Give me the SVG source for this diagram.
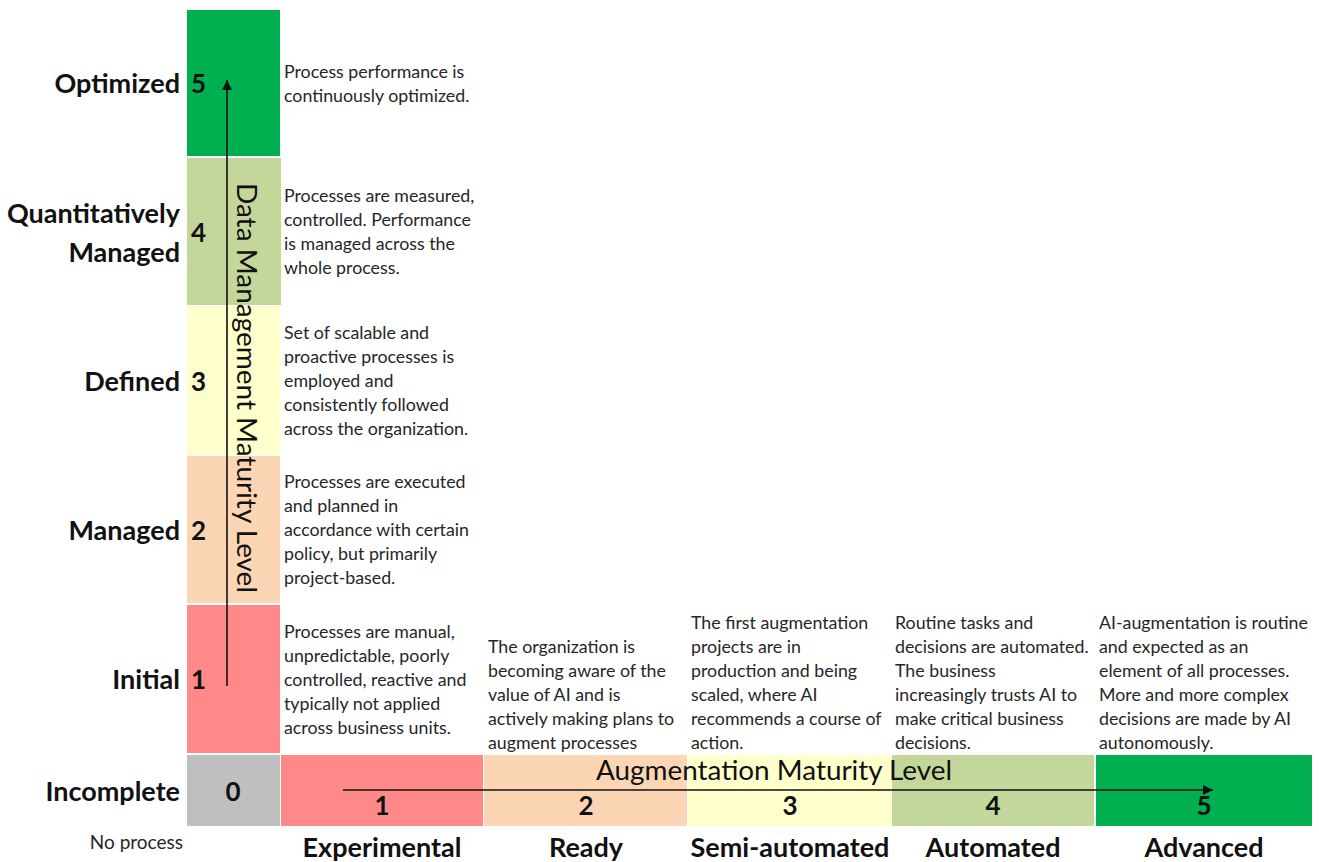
<svg xmlns="http://www.w3.org/2000/svg" width="1319" height="862" viewBox="0 0 1319 862">
  <style>
    .lvl { font-family: Lato, "Liberation Sans", sans-serif; font-weight: 700; font-size: 27px; fill: #111; }
    .num { font-family: Lato, "Liberation Sans", sans-serif; font-weight: 700; font-size: 26px; fill: #111; }
    .desc { font-family: Lato, "Liberation Sans", sans-serif; font-size: 17.8px; fill: #262626; }
    .axis { font-family: Lato, "Liberation Sans", sans-serif; font-size: 27px; fill: #111; }
    .note { font-family: Lato, "Liberation Sans", sans-serif; font-size: 19px; fill: #262626; }
    .c5 { fill: #00B050; }
    .c4 { fill: #C4D79B; }
    .c3 { fill: #FFFFCC; }
    .c2 { fill: #FCD5B4; }
    .c1 { fill: #FF8989; }
    .c0 { fill: #BFBFBF; }
    .arrow { stroke: #111; stroke-width: 1.6; fill: none; marker-end: url(#head); }
  </style>
  <defs>
    <marker id="head" viewBox="0 0 10 10" refX="10" refY="5" markerWidth="6.5" markerHeight="6.5" markerUnits="strokeWidth" orient="auto">
      <path d="M0,0 L10,5 L0,10 Z" fill="#111"/>
    </marker>
  </defs>
  <rect width="1319" height="862" fill="#ffffff"/>

  <!-- Data management levels (vertical axis) -->
  <g id="dm-5">
    <rect class="c5" x="187" y="10" width="93" height="146"/>
    <text class="lvl" x="180" y="93" text-anchor="end">Optimized</text>
    <text class="num" x="191" y="93">5</text>
    <text class="desc" x="284" y="78">Process performance is</text>
    <text class="desc" x="284" y="102">continuously optimized.</text>
  </g>
  <g id="dm-4">
    <rect class="c4" x="187" y="158" width="94" height="147"/>
    <text class="lvl" x="180" y="223" text-anchor="end">Quantitatively</text>
    <text class="lvl" x="180" y="262" text-anchor="end">Managed</text>
    <text class="num" x="191" y="242">4</text>
    <text class="desc" x="284" y="202">Processes are measured,</text>
    <text class="desc" x="284" y="226">controlled. Performance</text>
    <text class="desc" x="284" y="250">is managed across the</text>
    <text class="desc" x="284" y="274">whole process.</text>
  </g>
  <g id="dm-3">
    <rect class="c3" x="187" y="306" width="93" height="149"/>
    <text class="lvl" x="180" y="391" text-anchor="end">Defined</text>
    <text class="num" x="191" y="391">3</text>
    <text class="desc" x="284" y="339">Set of scalable and</text>
    <text class="desc" x="284" y="363">proactive processes is</text>
    <text class="desc" x="284" y="387">employed and</text>
    <text class="desc" x="284" y="411">consistently followed</text>
    <text class="desc" x="284" y="435">across the organization.</text>
  </g>
  <g id="dm-2">
    <rect class="c2" x="187" y="456" width="93" height="147"/>
    <text class="lvl" x="180" y="540" text-anchor="end">Managed</text>
    <text class="num" x="191" y="540">2</text>
    <text class="desc" x="284" y="488">Processes are executed</text>
    <text class="desc" x="284" y="512">and planned in</text>
    <text class="desc" x="284" y="536">accordance with certain</text>
    <text class="desc" x="284" y="560">policy, but primarily</text>
    <text class="desc" x="284" y="584">project-based.</text>
  </g>
  <g id="dm-1">
    <rect class="c1" x="187" y="605" width="93" height="148"/>
    <text class="lvl" x="180" y="689" text-anchor="end">Initial</text>
    <text class="num" x="191" y="689">1</text>
    <text class="desc" x="284" y="638">Processes are manual,</text>
    <text class="desc" x="284" y="662">unpredictable, poorly</text>
    <text class="desc" x="284" y="686">controlled, reactive and</text>
    <text class="desc" x="284" y="710">typically not applied</text>
    <text class="desc" x="284" y="734">across business units.</text>
  </g>
  <g id="level-0">
    <rect class="c0" x="187" y="755" width="93" height="71"/>
    <text class="lvl" x="180" y="801" text-anchor="end">Incomplete</text>
    <text class="num" x="233" y="801" text-anchor="middle">0</text>
    <text class="note" x="183" y="849" text-anchor="end">No process</text>
  </g>

  <!-- Augmentation levels (horizontal axis) -->
  <g id="aug-1">
    <rect class="c1" x="281" y="755" width="202" height="71"/>
    <text class="num" x="382" y="815" text-anchor="middle">1</text>
    <text class="lvl" x="382" y="857" text-anchor="middle">Experimental</text>
  </g>
  <g id="aug-2">
    <rect class="c2" x="484" y="755" width="203" height="71"/>
    <text class="num" x="586" y="815" text-anchor="middle">2</text>
    <text class="lvl" x="586" y="857" text-anchor="middle">Ready</text>
    <text class="desc" x="488" y="653">The organization is</text>
    <text class="desc" x="488" y="677">becoming aware of the</text>
    <text class="desc" x="488" y="701">value of AI and is</text>
    <text class="desc" x="488" y="725">actively making plans to</text>
    <text class="desc" x="488" y="749">augment processes</text>
  </g>
  <g id="aug-3">
    <rect class="c3" x="688" y="755" width="203" height="71"/>
    <text class="num" x="790" y="815" text-anchor="middle">3</text>
    <text class="lvl" x="790" y="857" text-anchor="middle">Semi-automated</text>
    <text class="desc" x="691" y="629">The first augmentation</text>
    <text class="desc" x="691" y="653">projects are in</text>
    <text class="desc" x="691" y="677">production and being</text>
    <text class="desc" x="691" y="701">scaled, where AI</text>
    <text class="desc" x="691" y="725">recommends a course of</text>
    <text class="desc" x="691" y="749">action.</text>
  </g>
  <g id="aug-4">
    <rect class="c4" x="892" y="755" width="202" height="71"/>
    <text class="num" x="993" y="815" text-anchor="middle">4</text>
    <text class="lvl" x="993" y="857" text-anchor="middle">Automated</text>
    <text class="desc" x="895" y="629">Routine tasks and</text>
    <text class="desc" x="895" y="653">decisions are automated.</text>
    <text class="desc" x="895" y="677">The business</text>
    <text class="desc" x="895" y="701">increasingly trusts AI to</text>
    <text class="desc" x="895" y="725">make critical business</text>
    <text class="desc" x="895" y="749">decisions.</text>
  </g>
  <g id="aug-5">
    <rect class="c5" x="1096" y="755" width="216" height="71"/>
    <text class="num" x="1204" y="815" text-anchor="middle">5</text>
    <text class="lvl" x="1204" y="857" text-anchor="middle">Advanced</text>
    <text class="desc" x="1099" y="629">AI-augmentation is routine</text>
    <text class="desc" x="1099" y="653">and expected as an</text>
    <text class="desc" x="1099" y="677">element of all processes.</text>
    <text class="desc" x="1099" y="701">More and more complex</text>
    <text class="desc" x="1099" y="725">decisions are made by AI</text>
    <text class="desc" x="1099" y="749">autonomously.</text>
  </g>

  <!-- Axes -->
  <g id="connectors">
    <line class="arrow" x1="227" y1="686" x2="227" y2="80"/>
    <line class="arrow" x1="343" y1="790" x2="1213" y2="790"/>
  </g>
  <g id="axis-labels">
    <text class="axis" transform="translate(237,388) rotate(90)" text-anchor="middle" textLength="410" lengthAdjust="spacingAndGlyphs">Data Management Maturity Level</text>
    <text class="axis" x="774" y="780" text-anchor="middle" textLength="356" lengthAdjust="spacingAndGlyphs">Augmentation Maturity Level</text>
  </g>
</svg>
